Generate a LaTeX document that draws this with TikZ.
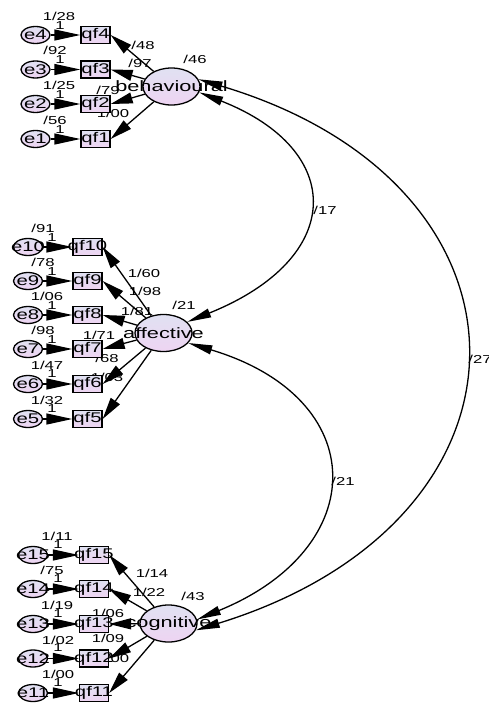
\documentclass[tikz,border=0pt]{standalone}
\usepackage{fontspec}
\setmainfont{Liberation Sans}[FakeStretch=1.45]
\usetikzlibrary{shapes.geometric,arrows.meta}
\newcommand\ztext[1]{\makebox[0pt]{#1}}
\definecolor{shadetop}{RGB}{224,225,242}
\definecolor{shadebot}{RGB}{238,212,242}
\tikzset{
  base/.style={draw=black, line width=1.3pt, inner sep=0pt, top color=shadetop, bottom color=shadebot},
  lat/.style={base, ellipse, minimum width=57pt, minimum height=37pt, font=\fontsize{15}{15}\selectfont},
  err/.style={base, ellipse, minimum width=29pt, minimum height=17pt, font=\fontsize{14}{14}\selectfont},
  obs/.style={base, rectangle, minimum width=29pt, minimum height=17pt, font=\fontsize{14}{14}\selectfont},
  num/.style={inner sep=0pt, text=black, font=\fontsize{11.5}{11.5}\selectfont},
  load/.style={line width=1.3pt, -{Triangle[length=22pt,width=11pt]}},
  eload/.style={line width=1.3pt, -{Triangle[length=26pt,width=11pt]}},
  cov/.style={line width=1.3pt, {Triangle[length=24pt,width=9pt]}-{Triangle[length=24pt,width=9pt]}},
}
\begin{document}
\begin{tikzpicture}[x=1pt,y=-1pt]
\path[fill=white,use as bounding box] (0,0) rectangle (489,704);
% ---------- labels (drawn first) ----------
% behavioural block
\node[num] (t1) at (59,16) {1/28};  \node[num] (t1a) at (60,26) {1};
\node[num] (t2) at (55,50) {/92};   \node[num] (t2a) at (60,60) {1};
\node[num] (t3) at (59,85) {1/25};  \node[num] (t3a) at (60,95) {1};
\node[num] (t4) at (55,120) {/56};  \node[num] (t4a) at (60,130) {1};
\node[num] (tl1) at (143,45) {/48};
\node[num] (tl2) at (140,63) {/97};
\node[num] (tl3) at (108,90) {/79};
\node[num] (tl4) at (113,113) {1/00};
\node[num] (tv) at (195,59) {/46};
% affective block
\node[num] (m1) at (43,228) {/91};   \node[num] (m1a) at (52,238) {1};
\node[num] (m2) at (43,262) {/78};   \node[num] (m2a) at (52,272) {1};
\node[num] (m3) at (47,296) {1/06};  \node[num] (m3a) at (52,306) {1};
\node[num] (m4) at (43,330) {/98};   \node[num] (m4a) at (52,340) {1};
\node[num] (m5) at (47,365) {1/47};  \node[num] (m5a) at (52,374) {1};
\node[num] (m6) at (47,400) {1/32};  \node[num] (m6a) at (52,409) {1};
\node[num] (ml1) at (144,273) {1/60};
\node[num] (ml2) at (145,291) {1/98};
\node[num] (ml3) at (137,311) {1/81};
\node[num] (ml4) at (99,335) {1/71};
\node[num] (ml5) at (107,358) {/68};
\node[num] (ml6) at (107,377) {1/03};
\node[num] (mv) at (184,305) {/21};
% cognitive block
\node[num] (b1) at (57,536) {1/11};  \node[num] (b1a) at (58,545) {1};
\node[num] (b2) at (52,570) {/75};   \node[num] (b2a) at (58,579) {1};
\node[num] (b3) at (57,605) {1/19};  \node[num] (b3a) at (58,614) {1};
\node[num] (b4) at (58,640) {1/02};  \node[num] (b4a) at (58,648) {1};
\node[num] (b5) at (58,674) {1/00};  \node[num] (b5a) at (58,683) {1};
\node[num] (bl1) at (152,573) {1/14};
\node[num] (bl2) at (149,592) {1/22};
\node[num] (bl3) at (108,613) {1/06};
\node[num] (bl4) at (108,638) {1/09};
\node[num] (bl5) at (113,658) {1/00};
\node[num] (bv) at (193,596) {/43};
% covariance labels
\node[num] (c1) at (325,210) {/17};
\node[num] (c2) at (343,481) {/21};
\node[num] (c3) at (480,359) {/27};
% ---------- nodes ----------
\node[lat] (beh) at (171.5,86.5) {\ztext{behavioural}};
\node[obs] (qf4) at (95.5,35) {\ztext{qf4}};
\node[obs] (qf3) at (95.5,69.5) {\ztext{qf3}};
\node[obs] (qf2) at (95.5,104) {\ztext{qf2}};
\node[obs] (qf1) at (95.5,139) {\ztext{qf1}};
\node[err] (e4) at (35.5,35) {\ztext{e4}};
\node[err] (e3) at (35.5,69.5) {\ztext{e3}};
\node[err] (e2) at (35.5,104) {\ztext{e2}};
\node[err] (e1) at (35.5,139) {\ztext{e1}};

\node[lat] (aff) at (163.5,333) {\ztext{affective}};
\node[obs] (qf10) at (87.5,247) {\ztext{qf10}};
\node[obs] (qf9) at (87.5,281) {\ztext{qf9}};
\node[obs] (qf8) at (87.5,315) {\ztext{qf8}};
\node[obs] (qf7) at (87.5,349) {\ztext{qf7}};
\node[obs] (qf6) at (87.5,384) {\ztext{qf6}};
\node[obs] (qf5) at (87.5,419) {\ztext{qf5}};
\node[err] (e10) at (28,247) {\ztext{e10}};
\node[err] (e9) at (28,281) {\ztext{e9}};
\node[err] (e8) at (28,315) {\ztext{e8}};
\node[err] (e7) at (28,349) {\ztext{e7}};
\node[err] (e6) at (28,384) {\ztext{e6}};
\node[err] (e5) at (28,419) {\ztext{e5}};

\node[lat] (cog) at (168.5,623.5) {\ztext{cognitive}};
\node[obs] (qf15) at (94,555) {\ztext{qf15}};
\node[obs] (qf14) at (94,589) {\ztext{qf14}};
\node[obs] (qf13) at (94,624) {\ztext{qf13}};
\node[obs] (qf12) at (94,658.5) {\ztext{qf12}};
\node[obs] (qf11) at (94,693) {\ztext{qf11}};
\node[err] (e15) at (33,555) {\ztext{e15}};
\node[err] (e14) at (33,589) {\ztext{e14}};
\node[err] (e13) at (33,624) {\ztext{e13}};
\node[err] (e12) at (33,658.5) {\ztext{e12}};
\node[err] (e11) at (33,693) {\ztext{e11}};
% ---------- connectors ----------
\foreach \e/\q in {e4/qf4,e3/qf3,e2/qf2,e1/qf1,e10/qf10,e9/qf9,e8/qf8,e7/qf7,e6/qf6,e5/qf5,e15/qf15,e14/qf14,e13/qf13,e12/qf12,e11/qf11}
  \draw[eload] (\e) -- (\q.west);
\foreach \q in {qf4,qf3,qf2,qf1} \draw[load] (beh) -- (\q.east);
\foreach \q in {qf10,qf9,qf8,qf7,qf6,qf5} \draw[load] (aff) -- (\q.east);
\foreach \q in {qf15,qf14,qf13,qf12,qf11} \draw[load] (cog) -- (\q.east);
\draw[cov] (beh.-12) .. controls (346,150) and (346,258) .. (aff.25);
\draw[cov] (aff.-22) .. controls (372,398) and (372,548) .. (cog.8);
\draw[cov] (beh.15) .. controls (553,185) and (553,520) .. (cog.-14);
\end{tikzpicture}
\end{document}
